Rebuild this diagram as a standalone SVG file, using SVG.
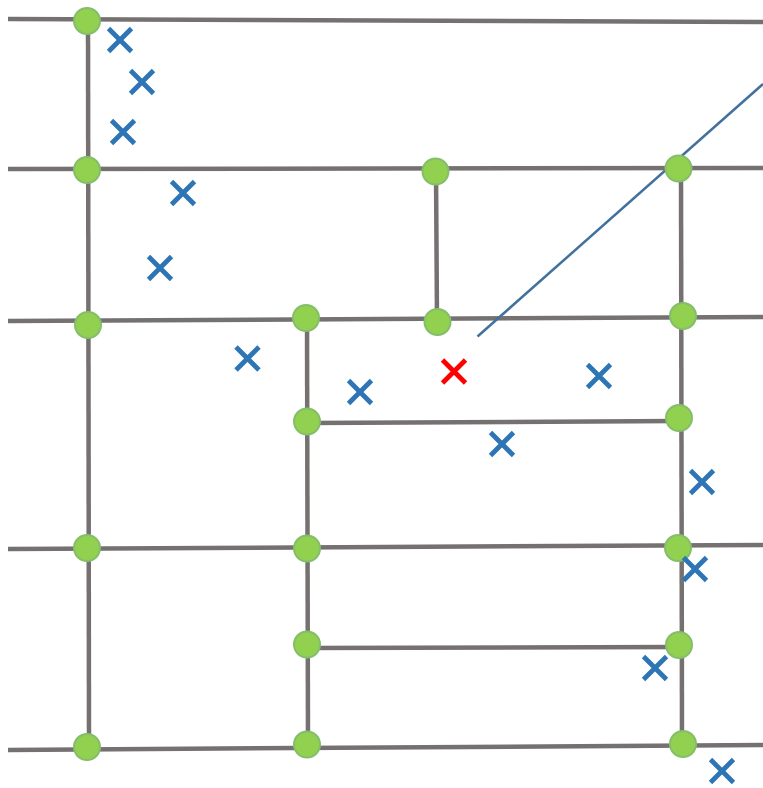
<svg xmlns="http://www.w3.org/2000/svg" width="763" height="788" viewBox="0 0 763 788">
<style>
.road{stroke:#767171;stroke-width:4.5;fill:none;stroke-linecap:butt}
.node{fill:#92D050;stroke:#84BE6A;stroke-width:2}
.xb{stroke:#2E75B6;stroke-width:4.8;fill:none}
.xr{stroke:#FF0000;stroke-width:4.8;fill:none}
</style>
<defs>
<path id="x" d="M-11.5,-11.5 L11.5,11.5 M11.5,-11.5 L-11.5,11.5"/>
</defs>
<rect width="763" height="788" fill="#FFFFFF"/>
<g id="connectors">
<line class="road" x1="8" y1="19" x2="763" y2="22"/>
<line class="road" x1="8" y1="169" x2="763" y2="168"/>
<line class="road" x1="8" y1="321" x2="763" y2="317"/>
<line class="road" x1="8" y1="549" x2="763" y2="545"/>
<line class="road" x1="8" y1="750" x2="763" y2="745"/>
<line class="road" x1="307" y1="423" x2="679" y2="421"/>
<line class="road" x1="307" y1="648" x2="679" y2="647"/>
<line class="road" x1="88" y1="20" x2="89" y2="748"/>
<line class="road" x1="307" y1="318" x2="308" y2="745"/>
<line class="road" x1="436" y1="171" x2="437" y2="322"/>
<line class="road" x1="681" y1="168" x2="682" y2="744"/>
<line x1="477.5" y1="336.5" x2="763" y2="84" stroke="#41719C" stroke-width="2.5"/>
</g>
<g id="n1"><circle class="node" cx="87" cy="21" r="13"/></g>
<g id="n2"><circle class="node" cx="87" cy="170" r="13"/></g>
<g id="n3"><circle class="node" cx="88" cy="325" r="13"/></g>
<g id="n4"><circle class="node" cx="87" cy="548" r="13"/></g>
<g id="n5"><circle class="node" cx="87" cy="747" r="13"/></g>
<g id="n6"><circle class="node" cx="435.5" cy="171.5" r="13"/></g>
<g id="n7"><circle class="node" cx="678.5" cy="168.5" r="13"/></g>
<g id="n8"><circle class="node" cx="306" cy="318" r="13"/></g>
<g id="n9"><circle class="node" cx="437.5" cy="322" r="13"/></g>
<g id="n10"><circle class="node" cx="683" cy="316" r="13"/></g>
<g id="n11"><circle class="node" cx="307" cy="421.5" r="13"/></g>
<g id="n12"><circle class="node" cx="679" cy="418" r="13"/></g>
<g id="n13"><circle class="node" cx="307" cy="548.5" r="13"/></g>
<g id="n14"><circle class="node" cx="678" cy="548" r="13"/></g>
<g id="n15"><circle class="node" cx="307" cy="644.5" r="13"/></g>
<g id="n16"><circle class="node" cx="679" cy="645" r="13"/></g>
<g id="n17"><circle class="node" cx="307" cy="744.5" r="13"/></g>
<g id="n18"><circle class="node" cx="683" cy="744" r="13"/></g>
<g id="marks">
<use href="#x" class="xb" x="120" y="40"/>
<use href="#x" class="xb" x="142" y="82"/>
<use href="#x" class="xb" x="123" y="132"/>
<use href="#x" class="xb" x="183" y="193"/>
<use href="#x" class="xb" x="160" y="268"/>
<use href="#x" class="xb" x="247.5" y="358.5"/>
<use href="#x" class="xb" x="360" y="392"/>
<use href="#x" class="xb" x="502" y="444"/>
<use href="#x" class="xb" x="599" y="376"/>
<use href="#x" class="xb" x="702" y="482"/>
<use href="#x" class="xb" x="695" y="569"/>
<use href="#x" class="xb" x="655" y="668"/>
<use href="#x" class="xb" x="722" y="771"/>
<use href="#x" class="xr" x="454" y="371.5"/>
</g>
</svg>
